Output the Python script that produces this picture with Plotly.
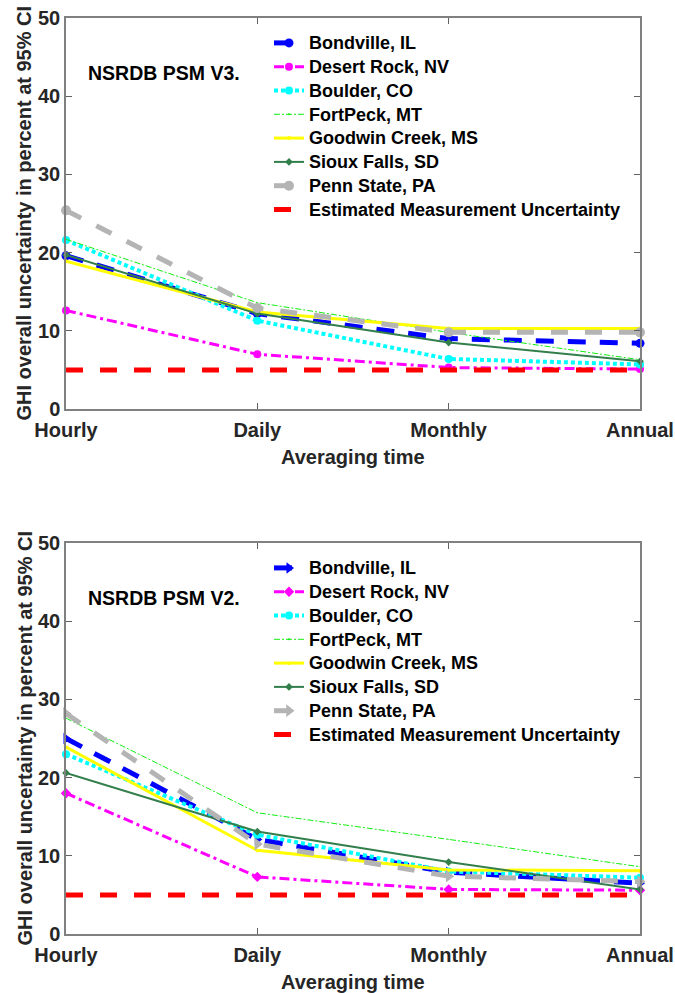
import plotly.graph_objects as go

# ---------------- data ----------------
categories = ["Hourly", "Daily", "Monthly", "Annual"]
site_names = ["Bondville, IL", "Desert Rock, NV", "Boulder, CO", "FortPeck, MT",
              "Goodwin Creek, MS", "Sioux Falls, SD", "Penn State, PA",
              "Estimated Measurement Uncertainty"]

# NSRDB PSM V3
v3_bondville = [19.6, 12.2, 9.0, 8.4]
v3_desert_rock = [12.6, 7.0, 5.3, 5.1]
v3_boulder = [21.6, 11.3, 6.4, 5.7]
v3_fortpeck = [21.7, 13.6, 9.8, 6.3]
v3_goodwin = [18.9, 12.4, 10.3, 10.3]
v3_sioux = [19.7, 12.2, 8.5, 6.1]
v3_penn = [25.4, 12.9, 9.8, 9.8]
v3_measurement = [5.0, 5.0, 5.0, 5.0]

# NSRDB PSM V2
v2_bondville = [25.0, 12.1, 7.9, 6.5]
v2_desert_rock = [18.0, 7.3, 5.7, 5.6]
v2_boulder = [23.0, 12.7, 8.0, 7.2]
v2_fortpeck = [27.6, 15.5, 12.1, 8.6]
v2_goodwin = [23.9, 10.7, 8.2, 8.1]
v2_sioux = [20.6, 13.1, 9.2, 5.7]
v2_penn = [28.2, 11.5, 7.4, 6.7]
v2_measurement = [5.0, 5.0, 5.0, 5.0]

panel_titles = ["NSRDB PSM V3.", "NSRDB PSM V2."]
x_title = "Averaging time"
y_title = "GHI overall uncertainty in percent at 95% CI"

v3_series = [v3_bondville, v3_desert_rock, v3_boulder, v3_fortpeck,
             v3_goodwin, v3_sioux, v3_penn, v3_measurement]
v2_series = [v2_bondville, v2_desert_rock, v2_boulder, v2_fortpeck,
             v2_goodwin, v2_sioux, v2_penn, v2_measurement]

# ---------------- styles ----------------
FONT = "Liberation Sans, Arial, sans-serif"
TXT = "#262626"

line_styles = [
    dict(color="#0000ff", width=5, dash="18px,14px"),
    dict(color="#ff00ff", width=3, dash="10px,4px,3px,4px"),
    dict(color="#00ffff", width=4, dash="4px,3px"),
    dict(color="#11ee11", width=1, dash="6px,2px,2px,2px"),
    dict(color="#ffff00", width=3, dash="solid"),
    dict(color="#337f4c", width=2, dash="solid"),
    dict(color="#b4b4b4", width=5, dash="17px,17px"),
    dict(color="#ff0000", width=5, dash="17px,17px"),
]
v3_markers = [
    dict(symbol="circle", size=9),
    dict(symbol="circle", size=8),
    dict(symbol="circle", size=8),
    dict(symbol="circle", size=1),
    dict(symbol="circle", size=4),
    dict(symbol="diamond", size=6),
    dict(symbol="circle", size=10),
    None,
]
v2_markers = [
    dict(symbol="triangle-right", size=10),
    dict(symbol="diamond", size=8),
    dict(symbol="circle", size=8),
    dict(symbol="circle", size=1),
    dict(symbol="triangle-down", size=5),
    dict(symbol="diamond", size=6),
    dict(symbol="triangle-right", size=11),
    None,
]

fig = go.Figure()

panels = [
    (v3_series, v3_markers, "x", "y", "legend"),
    (v2_series, v2_markers, "x2", "y2", "legend2"),
]
for series, markers, xa, ya, lg in panels:
    for name, vals, ls, mk in zip(site_names, series, line_styles, markers):
        if mk is None:
            mode = "lines"
            marker = None
        else:
            mode = "lines+markers"
            marker = dict(symbol=mk["symbol"], size=mk["size"], color=ls["color"],
                          line=dict(width=0))
        fig.add_trace(go.Scatter(
            x=categories, y=vals,
            name='<span style="font-size:18px">' + name + '</span>',
            mode=mode, line=ls, marker=marker, xaxis=xa, yaxis=ya, legend=lg,
            cliponaxis=False,
        ))

# geometry in page pixels (the page body margin is removed below)
W, H = 675, 993
PL, PR = 66, 640            # plot area left/right
TOP_T, TOP_B = 18, 409      # top panel
BOT_T, BOT_B = 543, 934     # bottom panel
ml, mr = PL, W - PR
mt, mb = TOP_T, H - BOT_B
ph = H - mt - mb
pw = W - ml - mr


def py(pix):
    return (BOT_B - pix) / ph


def px(pix):
    return (pix - PL) / pw


axis_common = dict(
    showline=True, linecolor="#808080", linewidth=1.5, mirror="ticks",
    ticks="inside", ticklen=6, tickcolor="#606060", tickwidth=1,
    showgrid=False, zeroline=False, automargin=False,
    ticklabeloverflow="allow",
    tickfont=dict(family=FONT, size=20, color=TXT, weight="bold"),
)

top_dom = [py(TOP_B), py(TOP_T)]
bot_dom = [py(BOT_B), py(BOT_T)]

legend_font = dict(family=FONT, size=16, color="black", weight="bold")
fig.update_layout(
    width=W, height=H,
    margin=dict(l=ml, r=mr, t=mt, b=mb),
    paper_bgcolor="white", plot_bgcolor="white",
    font=dict(family=FONT, color=TXT),
    xaxis=dict(domain=[0, 1], anchor="y", type="category",
               range=[0, 3], ticklabelstandoff=2, **axis_common),
    yaxis=dict(domain=top_dom, anchor="x", range=[0, 50], dtick=10,
               **axis_common),
    xaxis2=dict(domain=[0, 1], anchor="y2", type="category",
                range=[0, 3], ticklabelstandoff=2, **axis_common),
    yaxis2=dict(domain=bot_dom, anchor="x2", range=[0, 50], dtick=10,
                **axis_common),
    legend=dict(x=px(269), y=py(26), xanchor="left", yanchor="top",
                bgcolor="rgba(0,0,0,0)", borderwidth=0, font=legend_font),
    legend2=dict(x=px(269), y=py(551), xanchor="left", yanchor="top",
                 bgcolor="rgba(0,0,0,0)", borderwidth=0, font=legend_font),
    showlegend=True,
)

ann_font = dict(family=FONT, size=19.5, color="black", weight="bold")
title_font = dict(family=FONT, size=20, color=TXT, weight="bold")
annotations = []
for title, ycen, xt_y, plot_top, plot_bot in [
        (panel_titles[0], 73, 457, TOP_T, TOP_B),
        (panel_titles[1], 598, 982, BOT_T, BOT_B)]:
    annotations.append(dict(text=title, xref="paper", yref="paper",
                            x=px(86), y=py(ycen), xanchor="left",
                            yanchor="middle", showarrow=False, font=ann_font))
    annotations.append(dict(text=x_title, xref="paper", yref="paper",
                            x=0.5, y=py(xt_y), xanchor="center",
                            yanchor="middle", showarrow=False, font=title_font))
    annotations.append(dict(text=y_title, xref="paper", yref="paper",
                            x=px(24), y=py((plot_top + plot_bot) / 2),
                            xanchor="center", yanchor="middle",
                            textangle=-90, showarrow=False, font=title_font))
fig.update_layout(annotations=annotations)

fig.write_html(
    "out.html",
    config={"displayModeBar": False},
    post_script="document.body.style.margin='0';"
                "document.body.style.overflow='hidden';",
)
